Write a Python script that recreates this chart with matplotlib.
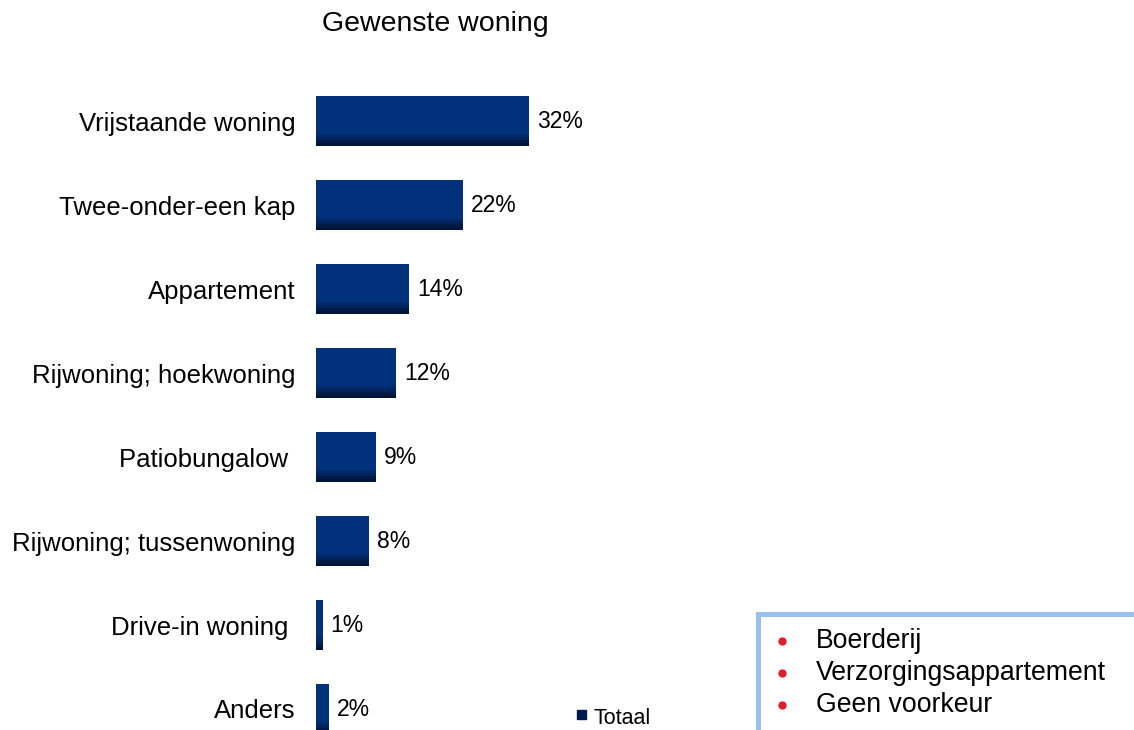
import numpy as np
import matplotlib.pyplot as plt
from matplotlib.patches import Rectangle
from matplotlib.lines import Line2D

plt.rcParams['font.family'] = ['Liberation Sans', 'DejaVu Sans']

categories = ["Vrijstaande woning", "Twee-onder-een kap", "Appartement",
              "Rijwoning; hoekwoning", "Patiobungalow ", "Rijwoning; tussenwoning",
              "Drive-in woning ", "Anders"]
totaal = [32, 22, 14, 12, 9, 8, 1, 2]
overig = ["Boerderij", "Verzorgingsappartement", "Geen voorkeur"]

W, H = 1134, 730
fig = plt.figure(figsize=(W / 100, H / 100), dpi=100)
ax = fig.add_axes([316 / W, 0, 434 / W, 651 / H])

y = np.arange(len(categories))
bar_h = 0.6

# navy bars with a darker shaded bottom edge
ax.barh(y, totaal, height=bar_h, color="#00317a", label="Totaal", zorder=2)
shade = ["#002a6a", "#00225a", "#001a48", "#00143a"]
for k, c in enumerate(shade):
    t = 0.035 * (len(shade) - k)
    ax.barh(y + bar_h / 2 - t / 2, totaal, height=t, color=c, zorder=3)

for yi, v in zip(y, totaal):
    ax.text(v + 1.2, yi, f"{v}%", va="center", ha="left", fontsize=16.5, zorder=4)

ax.set_xlim(0, 434 / 6.66)
ax.set_ylim(7.25, -0.5)
ax.set_yticks(y)
ax.set_yticklabels(categories, fontsize=18.5)
ax.tick_params(axis="y", length=0, pad=15)
ax.set_xticks([])
for s in ax.spines.values():
    s.set_visible(False)

fig.text(435 / W, 1 - 24 / H, "Gewenste woning", ha="center", va="center", fontsize=20.5)

# legend
fig.patches.append(Rectangle((577 / W, 1 - 719 / H), 9 / W, 9 / H,
                             transform=fig.transFigure, color="#001a50"))
fig.text(593 / W, 1 - 719 / H, "Totaal", ha="left", va="center", fontsize=15.5)

# box with other choices
fig.patches.append(Rectangle((758 / W, -0.05), 0.5, (730 - 614) / H + 0.05,
                             transform=fig.transFigure, facecolor="white",
                             edgecolor="#9dbff0", linewidth=3.6))
for i, txt in enumerate(overig):
    yy = 1 - (641 + 32 * i) / H
    fig.add_artist(Line2D([782 / W], [yy], marker="o", markersize=5,
                          color="#dd2030", transform=fig.transFigure))
    fig.text(816 / W, yy, txt, ha="left", va="center", fontsize=19.2)

fig.savefig("out.png", dpi=100)
